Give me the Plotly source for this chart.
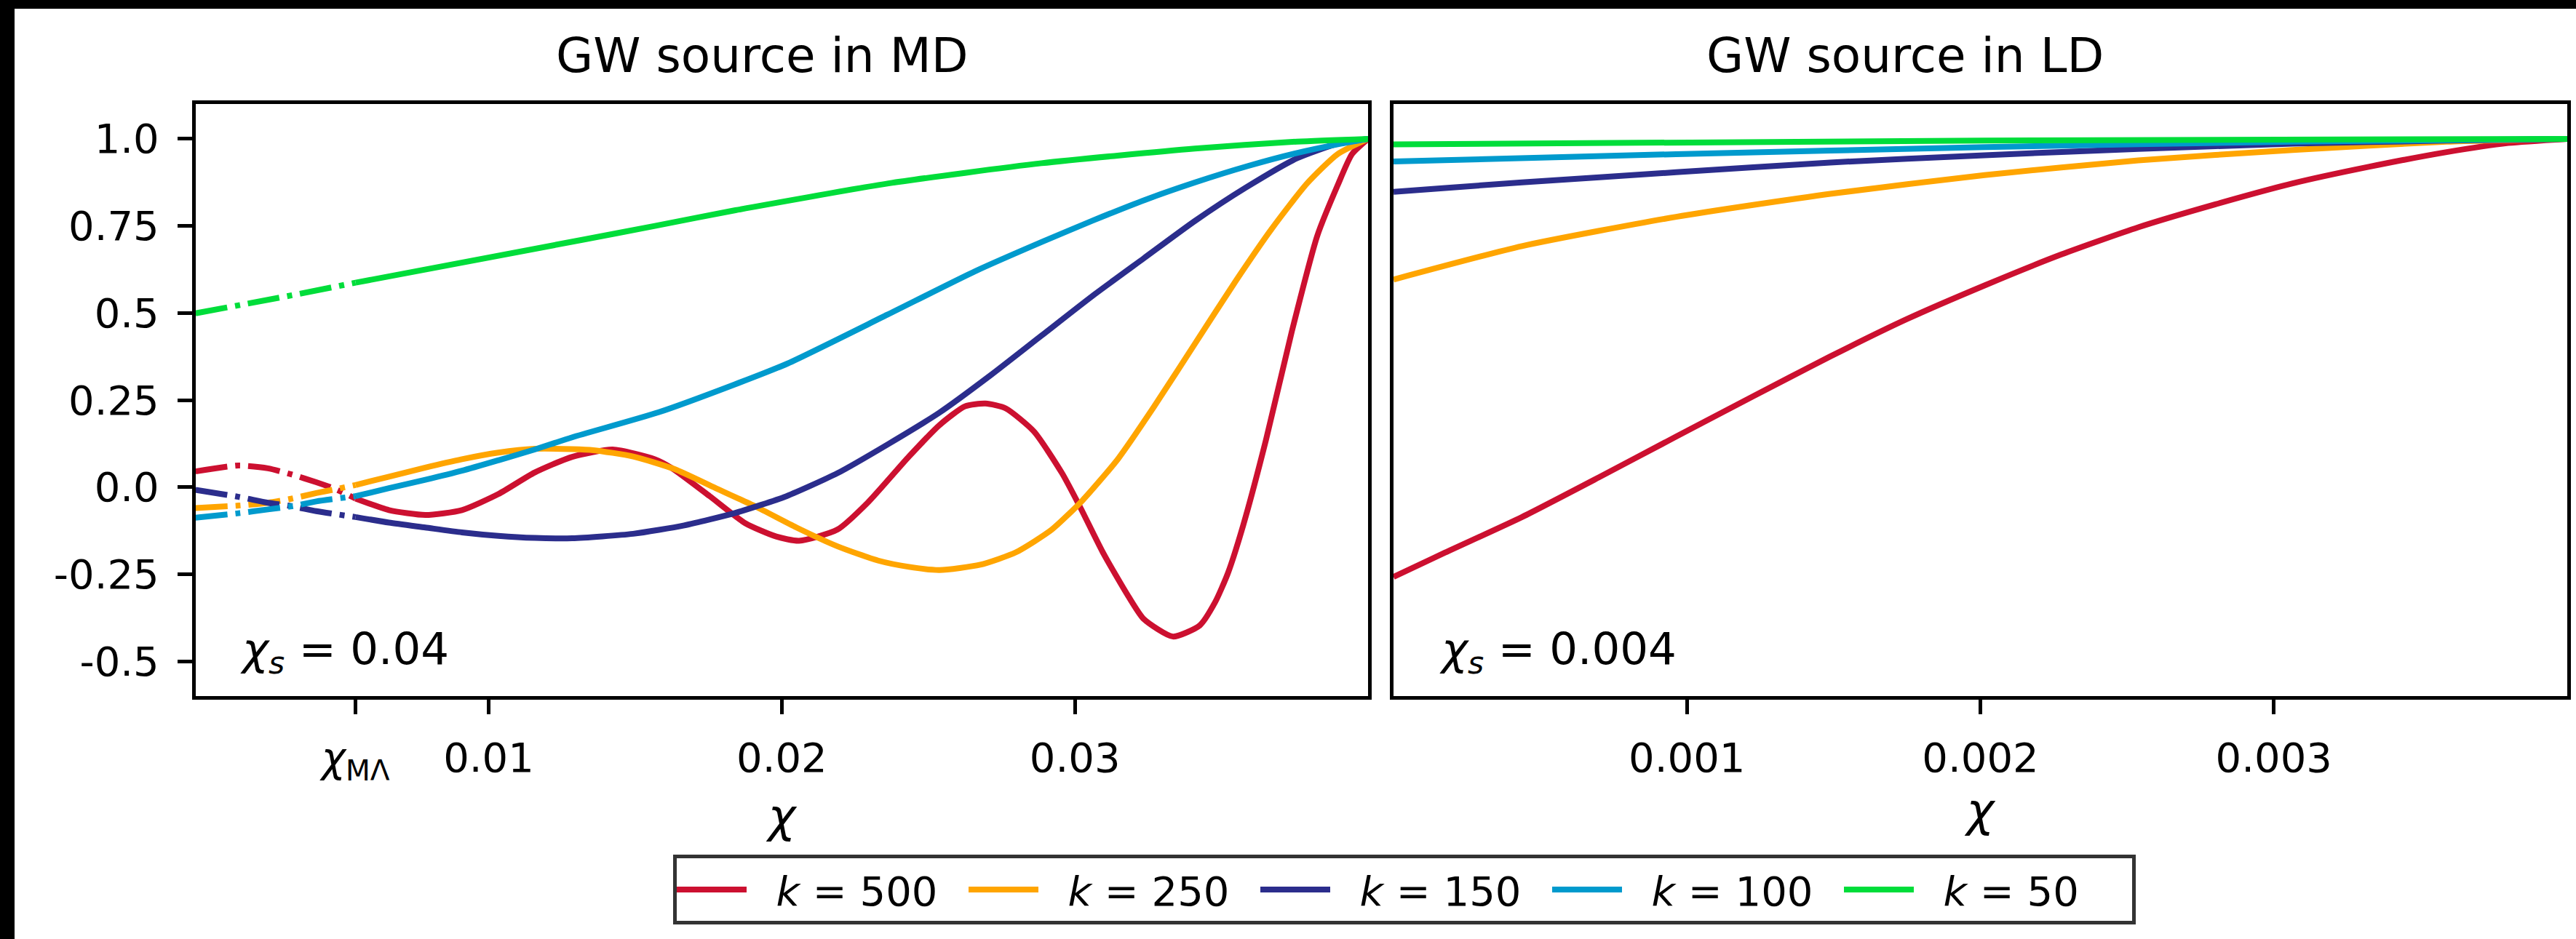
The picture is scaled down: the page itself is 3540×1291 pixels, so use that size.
import plotly.graph_objects as go

W, H = 3540, 1291

# ---------------- data ----------------
labels = ["<i>k</i> = 500", "<i>k</i> = 250", "<i>k</i> = 150", "<i>k</i> = 100", "<i>k</i> = 50"]
colors = ["#CC1030", "#FFA500", "#2B2D8C", "#009ACD", "#00DD3A"]

chi_ML = 0.00546          # matter-Lambda equality position (tick on left panel)
chi_s_md = 0.04
chi_s_ld = 0.004

# GW source in MD (left panel)
md_k500_x = [0.0, 0.00147, 0.00247, 0.00329, 0.00412, 0.00478, 0.00546, 0.0066, 0.00784, 0.00909,
             0.01033, 0.01157, 0.01285, 0.01423, 0.01567, 0.01624, 0.01754, 0.01876, 0.01981, 0.02059,
             0.0219, 0.02294, 0.02434, 0.02538, 0.02625, 0.02695, 0.02764, 0.0286, 0.02956, 0.03017,
             0.03095, 0.03182, 0.03235, 0.03334, 0.03426, 0.03478, 0.03522, 0.03574, 0.03652, 0.0374,
             0.03827, 0.03896, 0.03945, 0.04]
md_k500_y = [0.045, 0.062, 0.054, 0.036, 0.014, -0.006, -0.033, -0.066, -0.080, -0.066,
             -0.020, 0.042, 0.087, 0.108, 0.080, 0.055, -0.026, -0.104, -0.142, -0.154,
             -0.122, -0.044, 0.088, 0.178, 0.232, 0.240, 0.226, 0.160, 0.040, -0.056,
             -0.187, -0.313, -0.379, -0.429, -0.397, -0.331, -0.247, -0.110, 0.136, 0.447,
             0.722, 0.866, 0.956, 1.0]

md_k250_x = [0.0, 0.00147, 0.00247, 0.00329, 0.00412, 0.00478, 0.00546, 0.0066, 0.00784, 0.00909,
             0.01033, 0.01157, 0.01285, 0.01357, 0.01493, 0.01633, 0.01772, 0.01911, 0.0205, 0.0219,
             0.02329, 0.02434, 0.02538, 0.02677, 0.02799, 0.02921, 0.03026, 0.03148, 0.0327, 0.03409,
             0.03548, 0.0367, 0.03792, 0.03896, 0.04]
md_k250_y = [-0.060, -0.053, -0.045, -0.033, -0.017, -0.006, 0.006, 0.030, 0.056, 0.080,
             0.099, 0.110, 0.109, 0.106, 0.088, 0.052, -0.002, -0.056, -0.116, -0.170,
             -0.211, -0.229, -0.238, -0.223, -0.187, -0.122, -0.038, 0.082, 0.231, 0.411,
             0.591, 0.740, 0.872, 0.956, 1.0]

md_k150_x = [0.0, 0.00147, 0.00247, 0.00329, 0.00412, 0.00546, 0.0066, 0.00784, 0.00909, 0.01033,
             0.01157, 0.01285, 0.01493, 0.01667, 0.01842, 0.02016, 0.0219, 0.02364, 0.02538, 0.02712,
             0.02886, 0.0306, 0.03235, 0.03409, 0.03583, 0.03757, 0.03896, 0.04]
md_k150_y = [-0.008, -0.028, -0.045, -0.055, -0.069, -0.086, -0.102, -0.116, -0.130, -0.140,
             -0.146, -0.147, -0.134, -0.110, -0.074, -0.026, 0.040, 0.124, 0.214, 0.321,
             0.435, 0.549, 0.657, 0.764, 0.860, 0.944, 0.986, 1.0]

md_k100_x = [0.0, 0.00147, 0.00247, 0.00329, 0.00412, 0.00546, 0.0066, 0.00784, 0.00909, 0.01033,
             0.01157, 0.01285, 0.0158, 0.0184, 0.0202, 0.0236, 0.0266, 0.0289, 0.0306, 0.0324,
             0.0341, 0.0359, 0.0376, 0.039, 0.04]
md_k100_y = [-0.088, -0.075, -0.064, -0.055, -0.041, -0.026, -0.003, 0.021, 0.047, 0.077,
             0.108, 0.143, 0.215, 0.295, 0.355, 0.495, 0.620, 0.705, 0.765, 0.825,
             0.875, 0.922, 0.960, 0.985, 1.0]

md_k50_x = [0.0, 0.0033, 0.00546, 0.01319, 0.01567, 0.01842, 0.02364, 0.02886, 0.03409, 0.03757, 0.04]
md_k50_y = [0.499, 0.551, 0.587, 0.710, 0.750, 0.795, 0.872, 0.930, 0.972, 0.992, 1.0]

# GW source in LD (right panel)
ld_k500_x = [0.0, 0.000176, 0.000438, 0.0007, 0.000963, 0.001226, 0.001488, 0.001751, 0.002014,
             0.002276, 0.002538, 0.002801, 0.003064, 0.003326, 0.003589, 0.003799, 0.004]
ld_k500_y = [-0.258, -0.188, -0.086, 0.028, 0.145, 0.261, 0.375, 0.483, 0.579,
             0.668, 0.746, 0.812, 0.872, 0.920, 0.962, 0.988, 1.0]
ld_k250_x = [0.0, 0.000438, 0.000963, 0.001488, 0.002014, 0.002538, 0.003064, 0.003589, 0.004]
ld_k250_y = [0.596, 0.692, 0.776, 0.842, 0.896, 0.938, 0.968, 0.992, 1.0]
ld_k150_x = [0.0, 0.000438, 0.000963, 0.001488, 0.002014, 0.002538, 0.003064, 0.003589, 0.004]
ld_k150_y = [0.848, 0.875, 0.904, 0.932, 0.953, 0.971, 0.986, 0.995, 1.0]
ld_k100_x = [0.0, 0.000963, 0.002014, 0.003064, 0.004]
ld_k100_y = [0.935, 0.956, 0.976, 0.992, 1.0]
ld_k50_x = [0.0, 0.002014, 0.004]
ld_k50_y = [0.984, 0.995, 1.0]

y_tickvals = [-0.5, -0.25, 0.0, 0.25, 0.5, 0.75, 1.0]
y_ticktext = ["-0.5", "-0.25", "0.0", "0.25", "0.5", "0.75", "1.0"]
md_tickvals = [chi_ML, 0.01, 0.02, 0.03]
md_ticktext = ["<i>χ</i><sub>MΛ</sub>", "0.01", "0.02", "0.03"]
ld_tickvals = [0.001, 0.002, 0.003]
ld_ticktext = ["0.001", "0.002", "0.003"]

md_series = [(md_k500_x, md_k500_y), (md_k250_x, md_k250_y), (md_k150_x, md_k150_y),
             (md_k100_x, md_k100_y), (md_k50_x, md_k50_y)]
ld_series = [(ld_k500_x, ld_k500_y), (ld_k250_x, ld_k250_y), (ld_k150_x, ld_k150_y),
             (ld_k100_x, ld_k100_y), (ld_k50_x, ld_k50_y)]

# ---------------- figure ----------------
FONT = "DejaVu Sans"
LW = 8
AXW = 4.5
DASHDOT = "44px,11px,7px,11px"
GAP = "\u00a0\u00a0"   # spacing between legend line and its label

fig = go.Figure()
for i in range(5):
    xs, ys = md_series[i]
    xs_solid = [x for x in xs if x >= chi_ML]
    ys_solid = [y for x, y in zip(xs, ys) if x >= chi_ML]
    xs_dash = [x for x in xs if x <= chi_ML]
    ys_dash = [y for x, y in zip(xs, ys) if x <= chi_ML]
    fig.add_trace(go.Scatter(x=xs_solid, y=ys_solid, mode="lines", name=GAP + labels[i],
                             legendgroup=labels[i], showlegend=True,
                             line=dict(color=colors[i], width=LW, shape="spline", smoothing=0.6),
                             xaxis="x", yaxis="y"))
    fig.add_trace(go.Scatter(x=xs_dash, y=ys_dash, mode="lines", name=labels[i],
                             legendgroup=labels[i], showlegend=False,
                             line=dict(color=colors[i], width=LW, dash=DASHDOT, shape="spline", smoothing=0.6),
                             xaxis="x", yaxis="y"))
    lx, ly = ld_series[i]
    fig.add_trace(go.Scatter(x=lx, y=ly, mode="lines", name=labels[i],
                             legendgroup=labels[i], showlegend=False,
                             line=dict(color=colors[i], width=LW, shape="spline", smoothing=0.6),
                             xaxis="x2", yaxis="y2"))

def px_x(p):
    return p / W

def px_y(p):
    return 1 - p / H

axis_common = dict(showline=True, linecolor="black", linewidth=AXW, mirror=True,
                   showgrid=False, zeroline=False, ticks="outside", ticklen=20,
                   tickwidth=AXW, tickcolor="black",
                   tickfont=dict(family=FONT, size=56, color="black"))

fig.update_layout(
    width=W, height=H,
    margin=dict(l=0, r=0, t=0, b=0),
    paper_bgcolor="white", plot_bgcolor="white",
    font=dict(family=FONT, color="black"),
    xaxis=dict(domain=[px_x(268.7), px_x(1880)], range=[0, chi_s_md], anchor="y",
               tickvals=md_tickvals, ticktext=md_ticktext, ticklabelstandoff=12,
               title=dict(text="<i>χ</i>", font=dict(family=FONT, size=64), standoff=20),
               **axis_common),
    yaxis=dict(domain=[px_y(957), px_y(143)], range=[-0.6, 1.1], anchor="x",
               tickvals=y_tickvals, ticktext=y_ticktext, ticklabelstandoff=14,
               **axis_common),
    xaxis2=dict(domain=[px_x(1915), px_x(3528)], range=[0, chi_s_ld], anchor="y2",
                tickvals=ld_tickvals, ticktext=ld_ticktext, ticklabelstandoff=12,
                title=dict(text="<i>χ</i>", font=dict(family=FONT, size=64), standoff=20),
                **axis_common),
    yaxis2=dict(domain=[px_y(957), px_y(143)], range=[-0.6, 1.1], anchor="x2",
                showline=True, linecolor="black", linewidth=AXW, mirror=True,
                showgrid=False, zeroline=False, showticklabels=False, ticks=""),
    legend=dict(orientation="h", x=px_x(1930), xanchor="center", y=px_y(1175), yanchor="top",
                bordercolor="#333333", borderwidth=5, bgcolor="white",
                font=dict(family=FONT, size=56, color="black"),
                itemwidth=96, entrywidth=290, entrywidthmode="pixels"),
    showlegend=True,
)

annotations = [
    dict(text="GW source in MD", x=px_x(1047), y=px_y(76), xref="paper", yref="paper",
         xanchor="center", yanchor="middle", showarrow=False, font=dict(family=FONT, size=66)),
    dict(text="GW source in LD", x=px_x(2618), y=px_y(76), xref="paper", yref="paper",
         xanchor="center", yanchor="middle", showarrow=False, font=dict(family=FONT, size=66)),
    dict(text="<i>χ<sub>s</sub></i> = 0.04", x=px_x(328), y=px_y(938), xref="paper", yref="paper",
         xanchor="left", yanchor="bottom", showarrow=False, font=dict(family=FONT, size=61)),
    dict(text="<i>χ<sub>s</sub></i> = 0.004", x=px_x(1976), y=px_y(938), xref="paper", yref="paper",
         xanchor="left", yanchor="bottom", showarrow=False, font=dict(family=FONT, size=61)),
]
fig.update_layout(annotations=annotations)

# dark border strips present at the top and left edges of the reference image
fig.update_layout(shapes=[
    dict(type="rect", xref="paper", yref="paper", x0=0, x1=px_x(20), y0=0, y1=1,
         fillcolor="black", line=dict(width=0), layer="above"),
    dict(type="rect", xref="paper", yref="paper", x0=0, x1=1, y0=px_y(12), y1=1,
         fillcolor="black", line=dict(width=0), layer="above"),
])

fig.write_html("out.html")
